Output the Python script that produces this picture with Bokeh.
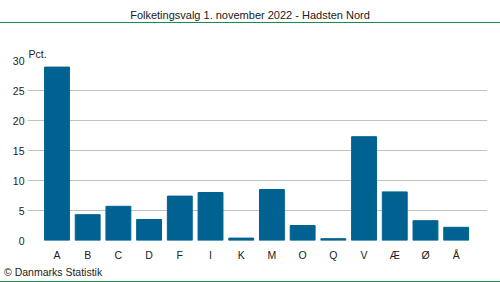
from bokeh.plotting import figure
from bokeh.models import Range1d, FixedTicker, Div
from bokeh.layouts import column
from bokeh.embed import file_html
from bokeh.resources import INLINE

parties = ["A", "B", "C", "D", "F", "I", "K", "M", "O", "Q", "V", "Æ", "Ø", "Å"]
values = [28.9, 4.3, 5.7, 3.5, 7.4, 8.0, 0.4, 8.5, 2.5, 0.3, 17.3, 8.1, 3.3, 2.2]
y_ticks = [0, 5, 10, 15, 20, 25, 30]
title_text = "Folketingsvalg 1. november 2022 - Hadsten Nord"
unit_text = "Pct."
source_text = "© Danmarks Statistik"

FONT = "Liberation Sans"
BAR = "#006290"
GRID = "#c0c0c8"
GREEN = "#1a8a4a"
TXT = "#222222"

xs = list(range(len(parties)))

head = Div(text=(f'<div style="width:500px;border-bottom:1px solid {GREEN};'
                 f'text-align:center;font-family:\'{FONT}\';font-size:11px;line-height:12px;'
                 f'padding-top:9px;box-sizing:border-box;height:23px;color:#202020;">{title_text}</div>'),
           width=500, height=23, margin=0)

p = figure(width=500, height=241, output_backend="svg", toolbar_location=None,
           x_range=Range1d(-0.96, 14.02), y_range=Range1d(0, 30),
           min_border_left=27, min_border_right=13, min_border_top=37, min_border_bottom=24,
           margin=0)
p.title.text = unit_text
p.title.align = "left"
p.title.offset = 1
p.title.standoff = 2
p.title.text_font = FONT
p.title.text_font_size = "10.5px"
p.title.text_font_style = "normal"
p.title.text_color = TXT
p.outline_line_color = None

p.vbar(x=xs, top=values, width=0.81, color=BAR)

p.xgrid.grid_line_color = None
p.ygrid.grid_line_color = GRID
p.yaxis.ticker = FixedTicker(ticks=y_ticks)
p.xaxis.ticker = FixedTicker(ticks=xs)
p.xaxis.major_label_overrides = {i: name for i, name in enumerate(parties)}

for ax in (p.xaxis, p.yaxis):
    ax.axis_line_color = None
    ax.major_tick_line_color = None
    ax.minor_tick_line_color = None
    ax.major_tick_out = 0
    ax.major_tick_in = 0
    ax.minor_tick_out = 0
    ax.minor_tick_in = 0
    ax.major_label_text_font = FONT
    ax.major_label_text_font_size = "10.5px"
    ax.major_label_text_color = TXT
p.yaxis.major_label_standoff = 3
p.xaxis.major_label_standoff = 8

foot = Div(text=(f'<div style="width:500px;height:18px;border-bottom:1px solid {GREEN};'
                 f'box-sizing:border-box;padding-left:4px;padding-top:2px;font-family:\'{FONT}\';'
                 f'font-size:10.5px;line-height:12px;color:{TXT};">{source_text}</div>'),
           width=500, height=18, margin=0)

layout = column(head, p, foot, spacing=0, margin=0)
open("out.html", "w").write(file_html(layout, INLINE))
